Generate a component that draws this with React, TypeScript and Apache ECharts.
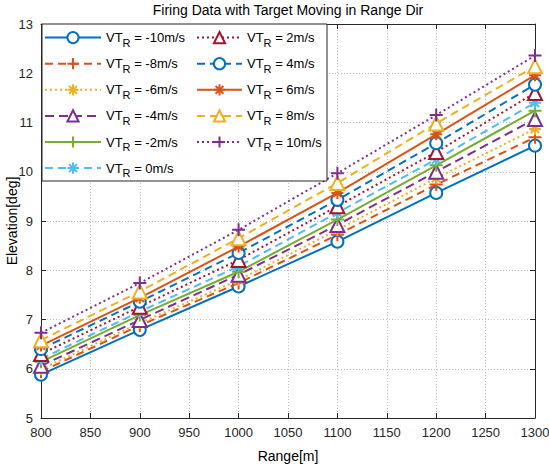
import React, { useEffect, useRef } from "react";
import * as echarts from "echarts";

const ranges = [800, 900, 1000, 1100, 1200, 1300];
const xTicks = [800, 850, 900, 950, 1000, 1050, 1100, 1150, 1200, 1250, 1300];
const yTicks = [5, 6, 7, 8, 9, 10, 11, 12, 13];

const speedLabels = ["-10", "-8", "-6", "-4", "-2", "0", "2", "4", "6", "8", "10"];
const vtm10 = [5.88, 6.79, 7.67, 8.58, 9.57, 10.53];
const vtm8 = [5.94, 6.88, 7.74, 8.72, 9.74, 10.7];
const vtm6 = [5.99, 6.93, 7.8, 8.82, 9.87, 10.87];
const vtm4 = [6.06, 6.99, 7.91, 8.92, 10.0, 11.07];
const vtm2 = [6.14, 7.09, 7.97, 9.03, 10.13, 11.24];
const vt0 = [6.2, 7.16, 8.08, 9.17, 10.25, 11.4];
const vt2 = [6.3, 7.26, 8.21, 9.3, 10.4, 11.6];
const vt4 = [6.4, 7.36, 8.35, 9.43, 10.58, 11.77];
const vt6 = [6.47, 7.44, 8.48, 9.57, 10.76, 11.96];
const vt8 = [6.58, 7.57, 8.65, 9.77, 10.98, 12.14];
const vt10 = [6.73, 7.74, 8.82, 9.97, 11.15, 12.36];
const seriesValues = [vtm10, vtm8, vtm6, vtm4, vtm2, vt0, vt2, vt4, vt6, vt8, vt10];

const BLUE = "#0072BD";
const ORANGE = "#D95319";
const YELLOW = "#EDB120";
const PURPLE = "#7E2F8E";
const GREEN = "#77AC30";
const CYAN = "#4DBEEE";
const RED = "#A2142F";

const PLUS = "path://M0,5L10,5M5,0L5,10";
const STAR = "path://M0,5L10,5M5,0L5,10M1.5,1.5L8.5,8.5M1.5,8.5L8.5,1.5";

const styles = [
  { color: BLUE, type: "solid", symbol: "emptyCircle", size: 12 },
  { color: ORANGE, type: [8, 5], symbol: PLUS, size: 13 },
  { color: YELLOW, type: [2, 3], symbol: STAR, size: 12 },
  { color: PURPLE, type: [9, 5], symbol: "emptyTriangle", size: 14 },
  { color: GREEN, type: "solid", symbol: PLUS, size: 13 },
  { color: CYAN, type: [8, 5], symbol: STAR, size: 12 },
  { color: RED, type: [2, 3], symbol: "emptyTriangle", size: 14 },
  { color: BLUE, type: [8, 5], symbol: "emptyCircle", size: 12 },
  { color: ORANGE, type: "solid", symbol: STAR, size: 12 },
  { color: YELLOW, type: [8, 5], symbol: "emptyTriangle", size: 14 },
  { color: PURPLE, type: [2, 3], symbol: PLUS, size: 13 },
];

const FONT = "Liberation Sans, Arial, Helvetica, sans-serif";
const AX = "#262626";

export default function App() {
  const ref = useRef<HTMLDivElement>(null);
  useEffect(() => {
    if (!ref.current) return;
    const chart = echarts.init(ref.current, null, { renderer: "svg" });
    const names = speedLabels.map((s) => `VTR = ${s}m/s`);
    const series = seriesValues.map((vals, i) => {
      const st = styles[i];
      return {
        name: names[i],
        type: "line",
        xAxisIndex: 0,
        yAxisIndex: 0,
        data: ranges.map((r, j) => [r, vals[j]]),
        symbol: st.symbol,
        symbolSize: st.size,
        showAllSymbol: true,
        lineStyle: { color: st.color, width: 2, type: st.type as any },
        itemStyle: { color: st.color, borderColor: st.color, borderWidth: 2 },
        z: 2 + i * 0.01,
      };
    });
    const legendCommon = {
      orient: "vertical",
      itemHeight: 14,
      itemGap: 9,
      padding: 0,
      formatter: (name: string) => "VT{sub|R}" + name.slice(3),
      textStyle: {
        fontFamily: FONT,
        fontSize: 13,
        color: "#000",
        rich: {
          sub: { fontFamily: FONT, fontSize: 11, color: "#000", padding: [10, 0, 0, 0] },
        },
      },
      z: 6,
    };
    const option: any = {
      animation: false,
      backgroundColor: "#fff",
      title: {
        text: "Firing Data with Target Moving in Range Dir",
        left: 288,
        top: 3,
        padding: 0,
        textAlign: "center",
        textStyle: { fontFamily: FONT, fontSize: 14, fontWeight: "normal", color: "#000" },
      },
      grid: {
        left: 41,
        right: 14,
        top: 24,
        bottom: 51,
        containLabel: false,
        outerBoundsMode: "none",
      },
      legend: [
        { ...legendCommon, left: 44, top: 31, itemWidth: 56, data: names.slice(0, 6) },
        { ...legendCommon, left: 196, top: 31, itemWidth: 45, data: names.slice(6) },
      ],
      graphic: [
        {
          type: "rect",
          shape: { x: 42, y: 24, width: 285, height: 157 },
          style: { fill: "#fff", stroke: AX, lineWidth: 1 },
          z: 5,
        },
      ],
      xAxis: [
        {
          type: "value",
          min: xTicks[0],
          max: xTicks[xTicks.length - 1],
          interval: 50,
          name: "Range[m]",
          nameLocation: "middle",
          nameGap: 31,
          nameMoveOverlap: false,
          nameTextStyle: { fontFamily: FONT, fontSize: 14, color: "#000" },
          axisLine: { lineStyle: { color: AX, width: 1 } },
          axisTick: { inside: true, length: 5, lineStyle: { color: AX } },
          axisLabel: {
            fontFamily: FONT,
            fontSize: 13,
            color: AX,
            margin: 8,
            formatter: (v: number) => String(v),
          },
          splitLine: { show: true, lineStyle: { color: "#bdbdbd", type: [1, 2], width: 1 } },
        },
        {
          type: "value",
          position: "top",
          min: xTicks[0],
          max: xTicks[xTicks.length - 1],
          interval: 50,
          axisLine: { show: true, onZero: false, lineStyle: { color: AX, width: 1 } },
          axisTick: { inside: true, length: 5, lineStyle: { color: AX } },
          axisLabel: { show: false },
          splitLine: { show: false },
        },
      ],
      yAxis: [
        {
          type: "value",
          min: yTicks[0],
          max: yTicks[yTicks.length - 1],
          interval: 1,
          name: "Elevation[deg]",
          nameLocation: "middle",
          nameGap: 22,
          nameMoveOverlap: false,
          nameTextStyle: { fontFamily: FONT, fontSize: 14, color: "#000" },
          axisLine: { show: true, lineStyle: { color: AX, width: 1 } },
          axisTick: { show: true, inside: true, length: 5, lineStyle: { color: AX } },
          axisLabel: {
            fontFamily: FONT,
            fontSize: 13,
            color: AX,
            margin: 8,
            formatter: (v: number) => String(v),
          },
          splitLine: { show: true, lineStyle: { color: "#bdbdbd", type: [1, 2], width: 1 } },
        },
        {
          type: "value",
          position: "right",
          min: yTicks[0],
          max: yTicks[yTicks.length - 1],
          interval: 1,
          axisLine: { show: true, onZero: false, lineStyle: { color: AX, width: 1 } },
          axisTick: { show: true, inside: true, length: 5, lineStyle: { color: AX } },
          axisLabel: { show: false },
          splitLine: { show: false },
        },
      ],
      series,
    };
    chart.setOption(option);
    return () => chart.dispose();
  }, []);
  return (
    <div
      ref={ref}
      style={{ position: "fixed", left: 0, top: 0, width: 549, height: 469 }}
    />
  );
}
